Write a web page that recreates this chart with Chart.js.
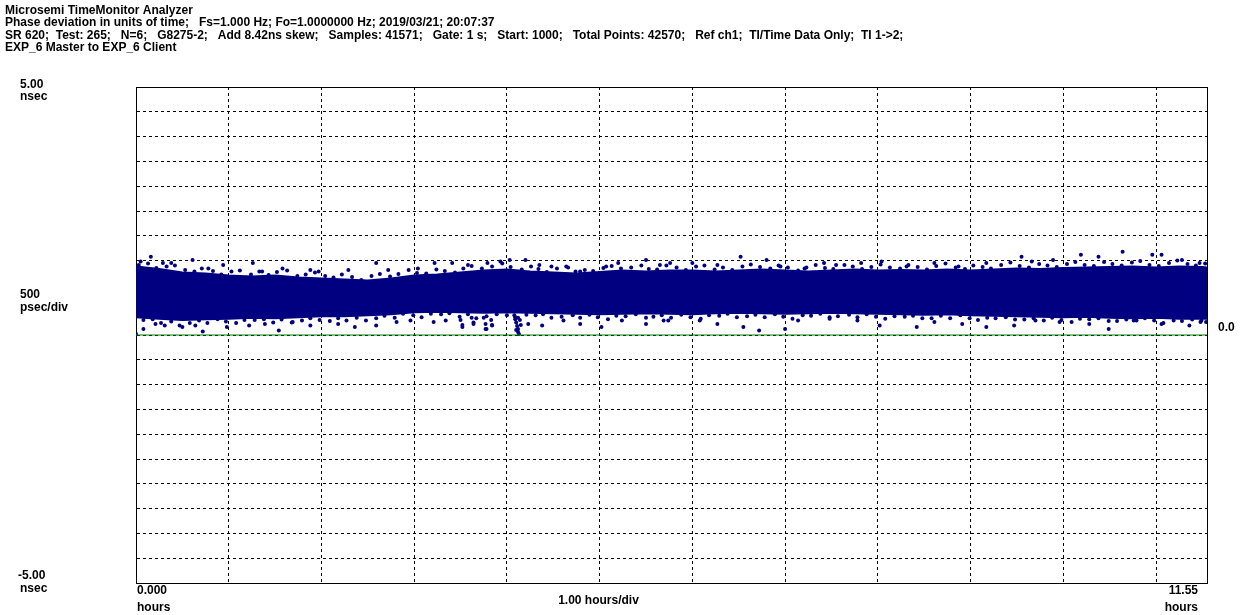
<!DOCTYPE html>
<html><head><meta charset="utf-8">
<script src="https://cdn.jsdelivr.net/npm/chart.js@4/dist/chart.umd.min.js"></script>
<style>html,body{margin:0;padding:0;background:#fff;}#wrap{width:1246px;height:615px;}</style>
</head><body><div id="wrap"><canvas id="c" width="1246" height="615"></canvas></div>
<script>
const headerLines = [
  "Microsemi TimeMonitor Analyzer",
  "Phase deviation in units of time;   Fs=1.000 Hz; Fo=1.0000000 Hz; 2019/03/21; 20:07:37",
  "SR 620;  Test: 265;   N=6;   G8275-2;   Add 8.42ns skew;   Samples: 41571;   Gate: 1 s;   Start: 1000;   Total Points: 42570;   Ref ch1;  TI/Time Data Only;  TI 1->2;",
  "EXP_6 Master to EXP_6 Client"
];
const yMin = -5, yMax = 5, yStep = 0.5;
const xMin = 0, xMax = 11.55, xStep = 1;

// dense core envelope of the phase data (hours, ns)
const coreHours = [0,0.25,0.5,0.75,1,1.25,1.5,1.75,2,2.25,2.5,2.75,3,3.25,3.5,3.75,4,4.25,4.5,4.75,5,5.25,5.5,5.75,6,6.25,6.5,6.75,7,7.25,7.5,7.75,8,8.25,8.5,8.75,9,9.25,9.5,9.75,10,10.25,10.5,10.75,11,11.25,11.5,11.55];
const coreHigh = [1.38,1.33,1.26,1.24,1.2,1.18,1.2,1.16,1.14,1.12,1.1,1.14,1.2,1.22,1.26,1.3,1.32,1.28,1.26,1.24,1.27,1.3,1.28,1.3,1.3,1.28,1.3,1.32,1.3,1.28,1.3,1.32,1.3,1.31,1.3,1.32,1.3,1.32,1.34,1.33,1.35,1.36,1.37,1.38,1.36,1.38,1.37,1.36];
const coreLow = [0.36,0.33,0.3,0.32,0.33,0.35,0.34,0.36,0.38,0.38,0.4,0.42,0.46,0.47,0.46,0.45,0.46,0.45,0.44,0.43,0.42,0.43,0.44,0.43,0.42,0.44,0.45,0.44,0.43,0.44,0.45,0.44,0.43,0.42,0.41,0.42,0.4,0.39,0.38,0.37,0.36,0.37,0.35,0.34,0.35,0.33,0.33,0.33];

// samples along the upper edge of the band (hours, ns)
const upEdgeHours = [0.03,0.13,0.22,0.33,0.42,0.53,0.63,0.71,0.83,0.92,1.03,1.12,1.24,1.33,1.43,1.52,1.63,1.74,1.83,1.93,2.04,2.13,2.22,2.33,2.43,2.54,2.63,2.74,2.83,2.94,3.03,3.13,3.24,3.33,3.44,3.53,3.62,3.73,3.84,3.95,4.04,4.16,4.26,4.34,4.43,4.54,4.66,4.74,4.84,4.93,5.04,5.13,5.23,5.34,5.45,5.53,5.62,5.72,5.83,5.93,6.04,6.13,6.24,6.33,6.43,6.54,6.63,6.73,6.84,6.93,7.03,7.14,7.23,7.33,7.43,7.52,7.64,7.73,7.83,7.93,8.03,8.13,8.24,8.33,8.43,8.53,8.63,8.73,8.84,8.94,9.03,9.13,9.22,9.33,9.43,9.53,9.63,9.74,9.83,9.93,10.04,10.13,10.23,10.33,10.44,10.53,10.63,10.74,10.83,10.93,11.03,11.14,11.23,11.34,11.43,11.53];
const upEdgeNs = [1.41,1.44,1.35,1.38,1.40,1.31,1.28,1.34,1.29,1.22,1.28,1.30,1.22,1.28,1.21,1.27,1.30,1.19,1.22,1.26,1.19,1.16,1.22,1.17,1.11,1.19,1.23,1.18,1.23,1.31,1.25,1.24,1.32,1.29,1.26,1.34,1.39,1.34,1.38,1.44,1.37,1.32,1.38,1.33,1.27,1.34,1.36,1.28,1.31,1.29,1.35,1.39,1.34,1.36,1.40,1.33,1.32,1.40,1.36,1.31,1.38,1.40,1.32,1.36,1.31,1.38,1.42,1.37,1.34,1.40,1.36,1.30,1.36,1.41,1.35,1.33,1.41,1.38,1.33,1.37,1.42,1.36,1.34,1.41,1.37,1.32,1.39,1.44,1.36,1.33,1.40,1.37,1.34,1.41,1.46,1.39,1.36,1.43,1.40,1.37,1.43,1.47,1.41,1.39,1.47,1.43,1.40,1.46,1.49,1.41,1.39,1.45,1.50,1.43,1.40,1.44];

// samples along the lower edge of the band (hours, ns)
const lowEdgeHours = [0.08,0.18,0.27,0.38,0.47,0.58,0.68,0.77,0.88,0.97,1.08,1.17,1.28,1.38,1.48,1.57,1.68,1.79,1.88,1.98,2.09,2.18,2.27,2.38,2.48,2.59,2.68,2.79,2.88,2.99,3.08,3.18,3.29,3.38,3.49,3.58,3.67,3.78,3.89,4.0,4.09,4.21,4.31,4.39,4.48,4.59,4.71,4.79,4.89,4.98,5.09,5.18,5.28,5.39,5.5,5.58,5.67,5.77,5.88,5.98,6.09,6.18,6.29,6.38,6.48,6.59,6.68,6.78,6.89,6.98,7.08,7.19,7.28,7.38,7.48,7.57,7.69,7.78,7.88,7.98,8.08,8.18,8.29,8.38,8.48,8.58,8.68,8.78,8.89,8.99,9.08,9.18,9.27,9.38,9.48,9.58,9.68,9.79,9.88,9.98,10.09,10.18,10.28,10.38,10.49,10.58,10.68,10.79,10.88,10.98,11.08,11.19,11.28,11.39,11.48,11.54];
const lowEdgeNs = [0.30,0.32,0.24,0.27,0.19,0.24,0.29,0.24,0.32,0.27,0.24,0.30,0.30,0.32,0.25,0.31,0.25,0.29,0.34,0.30,0.28,0.34,0.29,0.35,0.29,0.34,0.39,0.35,0.43,0.40,0.36,0.43,0.42,0.44,0.37,0.42,0.34,0.38,0.42,0.40,0.36,0.41,0.40,0.42,0.35,0.37,0.40,0.35,0.41,0.36,0.32,0.39,0.38,0.42,0.35,0.37,0.40,0.35,0.41,0.36,0.33,0.40,0.39,0.43,0.36,0.38,0.41,0.36,0.42,0.37,0.33,0.40,0.39,0.43,0.36,0.38,0.41,0.36,0.42,0.37,0.33,0.38,0.37,0.39,0.34,0.34,0.39,0.34,0.40,0.34,0.30,0.35,0.34,0.36,0.31,0.31,0.34,0.29,0.35,0.30,0.26,0.33,0.32,0.34,0.28,0.28,0.31,0.29,0.34,0.29,0.24,0.29,0.28,0.31,0.26,0.26];

// scattered outlying samples (hours, ns)
const outHours = [0.0,0.05,0.16,0.29,0.38,0.61,0.78,0.94,1.26,1.36,1.58,1.88,1.97,2.29,2.59,2.72,3.04,3.22,3.41,3.58,3.79,3.93,4.03,4.2,4.35,4.48,4.64,4.79,5.07,5.2,5.5,5.65,
  5.76,6.0,6.27,6.52,6.8,6.95,7.21,7.42,7.55,7.82,8.04,8.31,8.61,8.87,9.17,9.55,9.66,9.89,10.19,10.38,10.64,10.96,11.06,11.28,11.47,
  0.08,0.21,0.31,0.5,0.64,0.72,0.98,1.22,1.39,1.54,1.69,1.88,2.18,2.36,2.59,2.81,2.96,3.21,3.34,3.52,3.64,3.77,3.84,4.23,4.38,4.61,4.79,5.02,5.24,5.5,5.69,
  5.74,6.08,6.27,6.55,6.72,7.0,7.14,7.48,7.78,8.02,8.42,8.61,8.91,9.17,9.47,9.7,9.96,10.28,10.49,10.76,11.06,11.36,11.49];
const outNs = [0.02,1.48,1.58,1.45,1.45,1.51,1.34,1.41,1.45,1.28,1.34,1.31,1.28,1.31,1.45,1.31,1.34,1.45,1.45,1.41,1.45,1.48,1.51,1.51,1.41,1.38,1.38,1.28,1.38,1.45,1.51,1.41,
  1.45,1.45,1.41,1.58,1.51,1.38,1.34,1.45,1.41,1.45,1.48,1.38,1.45,1.38,1.45,1.58,1.48,1.51,1.62,1.58,1.68,1.62,1.62,1.51,1.45,
  0.12,0.22,0.19,0.16,0.19,0.07,0.16,0.19,0.22,0.09,0.26,0.19,0.22,0.16,0.19,0.26,0.29,0.26,0.29,0.16,0.22,0.12,0.19,0.22,0.19,0.29,0.22,0.16,0.29,0.22,0.29,
  0.29,0.29,0.22,0.16,0.09,0.12,0.29,0.33,0.29,0.19,0.16,0.26,0.22,0.16,0.19,0.29,0.26,0.22,0.12,0.29,0.22,0.19,0.29];

// downward excursions around hour 3.5 - 4.2 (hours, ns)
const dipHours = [3.5,3.52,3.62,3.64,3.75,3.77,3.78,3.83,3.84,4.08,4.09,4.1,4.11,4.12,4.12,4.13,4.14,4.15,4.12,4.1];
const dipNs = [0.3,0.2,0.35,0.25,0.35,0.22,0.12,0.3,0.2,0.4,0.32,0.25,0.18,0.12,0.06,0.02,0.3,0.2,0.35,0.1];

const NAVY = '#000080';
const pts = (xs, ys) => xs.map((x, i) => ({x: x, y: ys[i]}));
const FONT = '"Liberation Sans", Arial, sans-serif';

const textPlugin = {
  id: 'texts',
  afterDraw(chart) {
    const ctx = chart.ctx, ys = chart.scales.y, xs = chart.scales.x, a = chart.chartArea;
    ctx.save();
    ctx.fillStyle = '#000';
    ctx.textBaseline = 'alphabetic';
    ctx.textAlign = 'left';
    ctx.font = 'bold 12px ' + FONT;
    headerLines.forEach((t, i) => ctx.fillText(t, 5, 14 + i * 12.4));
    const lx = 20;
    ctx.fillText(yMax.toFixed(2), lx, ys.getPixelForValue(yMax) + 1);
    ctx.fillText('nsec', lx, ys.getPixelForValue(yMax) + 13);
    ctx.fillText(String(yStep * 1000), lx, ys.getPixelForValue(1) + 13);
    ctx.fillText('psec/div', lx, ys.getPixelForValue(1) + 26);
    ctx.fillText(yMin.toFixed(2), lx - 2, ys.getPixelForValue(yMin) - 4);
    ctx.fillText('nsec', lx, ys.getPixelForValue(yMin) + 9);
    ctx.fillText('0.0', a.right + 11, ys.getPixelForValue(0) - 4);
    ctx.fillText(xMin.toFixed(3), xs.getPixelForValue(xMin) + 1, a.bottom + 11);
    ctx.fillText('hours', xs.getPixelForValue(xMin) + 1, a.bottom + 28);
    ctx.textAlign = 'right';
    ctx.fillText(xMax.toFixed(2), xs.getPixelForValue(xMax) - 9, a.bottom + 11);
    ctx.fillText('hours', xs.getPixelForValue(xMax) - 9, a.bottom + 28);
    ctx.textAlign = 'center';
    ctx.fillText(xStep.toFixed(2) + ' hours/div', (a.left + a.right) / 2 - 73, a.bottom + 21);
    ctx.restore();
  }
};

const dotStyle = {backgroundColor: NAVY, borderColor: NAVY, pointRadius: 2, borderWidth: 0, order: 2};

new Chart(document.getElementById('c'), {
  type: 'scatter',
  data: {
    datasets: [
      {type: 'line', data: pts(coreHours, coreHigh), borderColor: NAVY, borderWidth: 2, backgroundColor: NAVY, pointRadius: 0, fill: '+1', tension: 0, order: 3},
      {type: 'line', data: pts(coreHours, coreLow), borderColor: NAVY, borderWidth: 2, backgroundColor: NAVY, pointRadius: 0, fill: false, tension: 0, order: 3},
      Object.assign({data: pts(upEdgeHours, upEdgeNs)}, dotStyle),
      Object.assign({data: pts(lowEdgeHours, lowEdgeNs)}, dotStyle),
      Object.assign({data: pts(outHours, outNs)}, dotStyle),
      Object.assign({data: pts(dipHours, dipNs)}, dotStyle),
      {type: 'line', data: [{x: xMin, y: 0}, {x: xMax, y: 0}], borderColor: '#008000', borderWidth: 1, pointRadius: 0, fill: false, order: 1}
    ]
  },
  options: {
    responsive: false,
    animation: false,
    events: [],
    layout: {padding: {left: 136, right: 39, top: 87, bottom: 32}},
    plugins: {legend: {display: false}, tooltip: {enabled: false}, title: {display: false}},
    scales: {
      x: {
        type: 'linear', min: xMin, max: xMax,
        afterBuildTicks: s => { const t = []; for (let v = xMin; v <= xMax; v += xStep) t.push({value: v}); t.push({value: xMax}); s.ticks = t; },
        ticks: {display: false},
        grid: {color: '#000', lineWidth: 1, drawTicks: false},
        border: {display: true, color: '#000', width: 1, dash: [3, 3]}
      },
      y: {
        type: 'linear', min: yMin, max: yMax,
        ticks: {display: false, stepSize: yStep},
        grid: {color: '#000', lineWidth: 1, drawTicks: false},
        border: {display: true, color: '#000', width: 1, dash: [3, 3]}
      }
    }
  },
  plugins: [textPlugin, {
    id: 'frame',
    beforeDatasetsDraw(chart) {
      const ctx = chart.ctx, a = chart.chartArea;
      ctx.save();
      ctx.strokeStyle = '#000'; ctx.lineWidth = 1;
      ctx.strokeRect(Math.round(a.left) + 0.5, Math.round(a.top) + 0.5, Math.round(a.right - a.left), Math.round(a.bottom - a.top));
      ctx.restore();
    }
  }]
});
</script>
</body></html>
